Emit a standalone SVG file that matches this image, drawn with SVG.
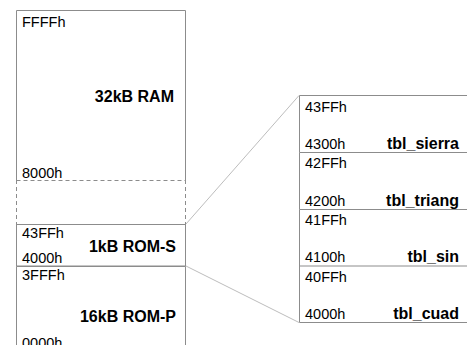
<svg xmlns="http://www.w3.org/2000/svg" width="467" height="345" viewBox="0 0 467 345">
<style>
.box{fill:none;stroke:#8c8c8c;stroke-width:1}
.dash{fill:none;stroke:#8c8c8c;stroke-width:1;stroke-dasharray:4,3}
.zoom{fill:none;stroke:#bdbdbd;stroke-width:1}
.a{font-family:"Liberation Sans",Arial,sans-serif;font-size:14.5px;fill:#000}
.b{font-family:"Liberation Sans",Arial,sans-serif;font-size:16px;font-weight:bold;fill:#000;text-anchor:end}
</style>
<rect width="467" height="345" fill="#fff"/>
<g id="connectors">
<line class="zoom" x1="186" y1="224" x2="299" y2="95.5"/>
<line class="zoom" x1="186" y1="266" x2="299" y2="322.5"/>
</g>
<g id="ram">
<path class="box" d="M16.5,180 V10.5 H185.5 V180"/>
<path class="dash" d="M16.5,180.5 H185.5 M16.5,180 V224 M185.5,180 V224"/>
<text class="a" x="22" y="27">FFFFh</text>
<text class="a" x="22" y="178">8000h</text>
<text class="b" x="174" y="102">32kB RAM</text>
</g>
<g id="rom-s">
<rect class="box" x="16.5" y="224.5" width="169" height="41.5"/>
<text class="a" x="22" y="238">43FFh</text>
<text class="a" x="22" y="263">4000h</text>
<text class="b" x="176" y="252">1kB ROM-S</text>
</g>
<g id="rom-p">
<path class="box" d="M16.5,345 V266.5 H185.5 V345"/>
<text class="a" x="22" y="280">3FFFh</text>
<text class="b" x="176" y="322">16kB ROM-P</text>
<text class="a" x="22" y="348">0000h</text>
</g>
<g id="tbl_sierra">
<path class="box" d="M467,95.5 H299.5 V152.5"/>
<text class="a" x="305" y="112">43FFh</text>
<text class="a" x="305" y="149">4300h</text>
<text class="b" x="459" y="149">tbl_sierra</text>
</g>
<g id="tbl_triang">
<path class="box" d="M467,152.5 H299.5 V209.5"/>
<text class="a" x="305" y="168">42FFh</text>
<text class="a" x="305" y="206">4200h</text>
<text class="b" x="459" y="206">tbl_triang</text>
</g>
<g id="tbl_sin">
<path class="box" d="M467,209.5 H299.5 V266"/>
<text class="a" x="305" y="225">41FFh</text>
<text class="a" x="305" y="262">4100h</text>
<text class="b" x="459" y="262">tbl_sin</text>
</g>
<g id="tbl_cuad">
<path class="box" d="M467,266 H299.5 V322.5 H467"/>
<text class="a" x="305" y="282">40FFh</text>
<text class="a" x="305" y="319">4000h</text>
<text class="b" x="459" y="319">tbl_cuad</text>
</g>
</svg>
